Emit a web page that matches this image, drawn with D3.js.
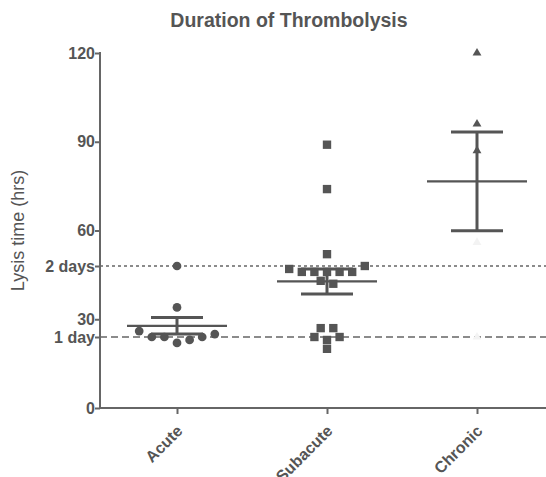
<!DOCTYPE html>
<html>
<head>
<meta charset="utf-8">
<script src="https://cdn.jsdelivr.net/npm/d3@7"></script>
<style>
  body { margin: 0; background: #fff; }
  text { font-family: "Liberation Sans", Arial, sans-serif; fill: #555; }
</style>
</head>
<body>
<script>
// Groups on the x axis
const categories = ["Acute", "Subacute", "Chronic"];

// Lysis times in hours (points with nearly the same value are listed left to right)
const acuteValues = [48, 34, 26, 24, 24, 22, 23, 24, 25];
const subacuteValues = [89, 74, 52, 47, 46, 46, 46, 46, 46, 48, 43, 42, 27, 27, 24, 23, 24, 20];
const chronicValues = [120, 96, 87];
// chronic points that barely show in the source picture
const chronicFaintValues = [56, 24];

// Axis ticks and reference lines
const yTicks = [0, 30, 60, 90, 120];
const refLines = [
  { value: 48, label: "2 days", dash: "3,3" },
  { value: 24, label: "1 day", dash: "7,4" }
];

const width = 546, height = 477;
const plotLeft = 100, plotBottom = 408, plotTop = 53;
const grey = "#555";

const svg = d3.select("body")
  .append("svg")
  .attr("width", width)
  .attr("height", height);

// Scales
const x = d3.scalePoint().domain(categories).range([102, 552]).padding(0.5);
const y = d3.scaleLinear().domain([0, 120]).range([plotBottom, plotTop]);

// Title
svg.append("text")
  .attr("x", 289)
  .attr("y", 27)
  .attr("text-anchor", "middle")
  .style("font-size", "19.5px")
  .style("font-weight", "bold")
  .text("Duration of Thrombolysis");

// Y axis label
svg.append("text")
  .attr("transform", "translate(24," + ((plotTop + plotBottom) / 2) + ") rotate(-90)")
  .attr("text-anchor", "middle")
  .style("font-size", "18px")
  .text("Lysis time (hrs)");

// Reference lines for 1 and 2 days
svg.selectAll(".ref")
  .data(refLines)
  .enter().append("line")
  .attr("class", "ref")
  .attr("x1", plotLeft)
  .attr("x2", width)
  .attr("y1", d => y(d.value))
  .attr("y2", d => y(d.value))
  .attr("stroke", "#666")
  .attr("stroke-width", 1.5)
  .attr("stroke-dasharray", d => d.dash);

// Y axis
const yAxis = d3.axisLeft(y)
  .tickValues(yTicks.concat(refLines.map(d => d.value)))
  .tickSize(5)
  .tickFormat(v => {
    const r = refLines.find(d => d.value === v);
    return r ? r.label : v;
  });

const gy = svg.append("g")
  .attr("transform", "translate(" + plotLeft + ",0)")
  .call(yAxis);
gy.select(".domain").remove();
gy.selectAll(".tick line").attr("stroke", "#666").attr("stroke-width", 2);
gy.selectAll(".tick text")
  .attr("x", -5)
  .style("font-size", "16px")
  .style("font-weight", "bold")
  .style("fill", grey);

svg.append("line")
  .attr("x1", plotLeft).attr("x2", plotLeft)
  .attr("y1", plotTop - 1).attr("y2", plotBottom)
  .attr("stroke", "#666")
  .attr("stroke-width", 2);

// X axis
const xAxis = d3.axisBottom(x).tickSize(6);
const gx = svg.append("g")
  .attr("transform", "translate(0," + plotBottom + ")")
  .call(xAxis);
gx.select(".domain").remove();
gx.selectAll(".tick line").attr("stroke", "#666").attr("stroke-width", 2);
gx.selectAll(".tick text")
  .attr("text-anchor", "end")
  .attr("dy", null)
  .attr("transform", "translate(6,24) rotate(-45)")
  .attr("y", 0)
  .style("font-size", "16px")
  .style("font-weight", "bold")
  .style("fill", grey);

svg.append("line")
  .attr("x1", plotLeft - 1).attr("x2", width)
  .attr("y1", plotBottom).attr("y2", plotBottom)
  .attr("stroke", "#666")
  .attr("stroke-width", 2);

// Spread points of almost equal value into centered rows
const slot = 12.6;
function swarm(values) {
  const sorted = values.map((v, i) => ({ v, i })).sort((a, b) => b.v - a.v || a.i - b.i);
  const rows = [];
  sorted.forEach((p, k) => {
    if (k > 0 && sorted[k - 1].v - p.v <= 1.5) rows[rows.length - 1].push(p);
    else rows.push([p]);
  });
  const out = [];
  rows.forEach(row => {
    row.sort((a, b) => a.i - b.i);
    row.forEach((p, j) => out.push({ v: p.v, dx: (j - (row.length - 1) / 2) * slot }));
  });
  return out;
}

function stats(values) {
  const m = d3.mean(values);
  const sem = d3.deviation(values) / Math.sqrt(values.length);
  return { mean: m, sem: sem };
}

const groups = [
  { name: "Acute", values: acuteValues, faint: [], symbol: d3.symbolCircle, size: 60 },
  { name: "Subacute", values: subacuteValues, faint: [], symbol: d3.symbolSquare, size: 70 },
  { name: "Chronic", values: chronicValues, faint: chronicFaintValues, symbol: d3.symbolTriangle, size: 34 }
];

groups.forEach(g => {
  const cx = x(g.name);
  const s = stats(g.values.concat(g.faint));

  // faint points
  svg.selectAll(null)
    .data(g.faint)
    .enter().append("path")
    .attr("d", d3.symbol().type(g.symbol).size(g.size))
    .attr("transform", d => "translate(" + cx + "," + y(d) + ")")
    .attr("fill", "#f3f3f3");

  // mean and SEM bars
  const bar = svg.append("g").attr("stroke", grey);
  bar.append("line")
    .attr("x1", cx - 50).attr("x2", cx + 50)
    .attr("y1", y(s.mean)).attr("y2", y(s.mean))
    .attr("stroke-width", 2.2);
  bar.append("line")
    .attr("x1", cx).attr("x2", cx)
    .attr("y1", y(s.mean + s.sem)).attr("y2", y(s.mean - s.sem))
    .attr("stroke-width", 3);
  bar.selectAll(null)
    .data([s.mean + s.sem, s.mean - s.sem])
    .enter().append("line")
    .attr("x1", cx - 26).attr("x2", cx + 26)
    .attr("y1", d => y(d)).attr("y2", d => y(d))
    .attr("stroke-width", 3);

  // points
  svg.selectAll(null)
    .data(swarm(g.values))
    .enter().append("path")
    .attr("d", d3.symbol().type(g.symbol).size(g.size))
    .attr("transform", d => "translate(" + (cx + d.dx) + "," + y(d.v) + ")")
    .attr("fill", grey);
});
</script>
</body>
</html>
